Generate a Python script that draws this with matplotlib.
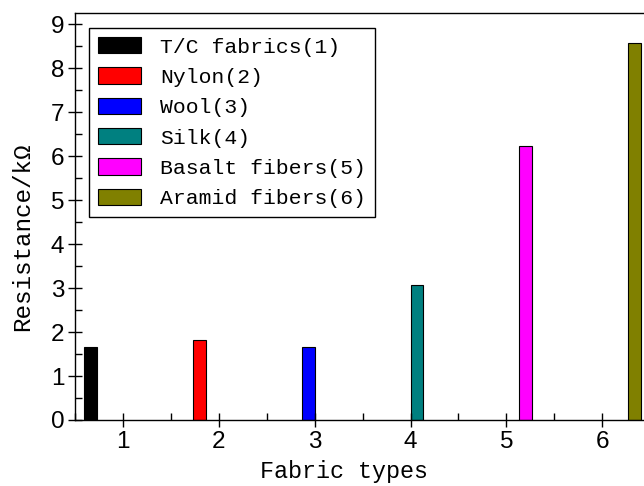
import numpy as np
import matplotlib
matplotlib.use("Agg")
import matplotlib.pyplot as plt
from matplotlib.ticker import MultipleLocator

# data
fabric_types = [1, 2, 3, 4, 5, 6]
labels = ["T/C fabrics(1)", "Nylon(2)", "Wool(3)", "Silk(4)",
          "Basalt fibers(5)", "Aramid fibers(6)"]
resistance = [1.65, 1.83, 1.67, 3.06, 6.23, 8.58]
colors = ["#000000", "#FF0000", "#0000FF", "#008080", "#FF00FF", "#808000"]

label_font = "Liberation Mono"
tick_font = "Liberation Sans"

fig = plt.figure(figsize=(6.44, 4.86), dpi=100)
ax = fig.add_axes([75.3 / 644, 1 - 420 / 486, (650 - 75.3) / 644, (420 - 12.7) / 486])

width = 0.135
for i, (x, y, c, lab) in enumerate(zip(fabric_types, resistance, colors, labels)):
    off = (i - 2.5) * width
    ax.bar(x + off, y, width=width, color=c, edgecolor="black", linewidth=0.8, label=lab)

ax.set_xlim(0.5, 6.5)
ax.set_ylim(0, 9.26)
ax.xaxis.set_major_locator(MultipleLocator(1))
ax.xaxis.set_minor_locator(MultipleLocator(0.5))
ax.yaxis.set_major_locator(MultipleLocator(1))
ax.yaxis.set_minor_locator(MultipleLocator(0.5))

ax.tick_params(which="major", direction="inout", length=10, width=1, labelsize=17.5, pad=3)
ax.tick_params(which="minor", direction="in", length=5, width=1)
ax.tick_params(top=False, right=False)
for t in ax.get_xticklabels() + ax.get_yticklabels():
    t.set_fontfamily(tick_font)

for s in ax.spines.values():
    s.set_linewidth(1.0)

ax.set_xlabel("Fabric types", fontfamily=label_font, fontsize=16.8)
ax.set_ylabel("Resistance/kΩ", fontfamily=[label_font, "DejaVu Sans"], fontsize=17.5)
ax.xaxis.set_label_coords(0.4675, -0.098)
ax.yaxis.set_label_coords(-0.071, 0.45)

leg = ax.legend(loc="upper left", bbox_to_anchor=(89 / 644, 1 - 28 / 486),
                bbox_transform=fig.transFigure, prop={"family": label_font, "size": 15.4},
                frameon=True, fancybox=False, framealpha=1, edgecolor="black",
                handlelength=2.0, handleheight=0.8, handletextpad=0.9,
                labelspacing=0.5, borderpad=0.42, borderaxespad=0)
leg.get_frame().set_linewidth(1.0)

fig.savefig("out.png", dpi=100)
